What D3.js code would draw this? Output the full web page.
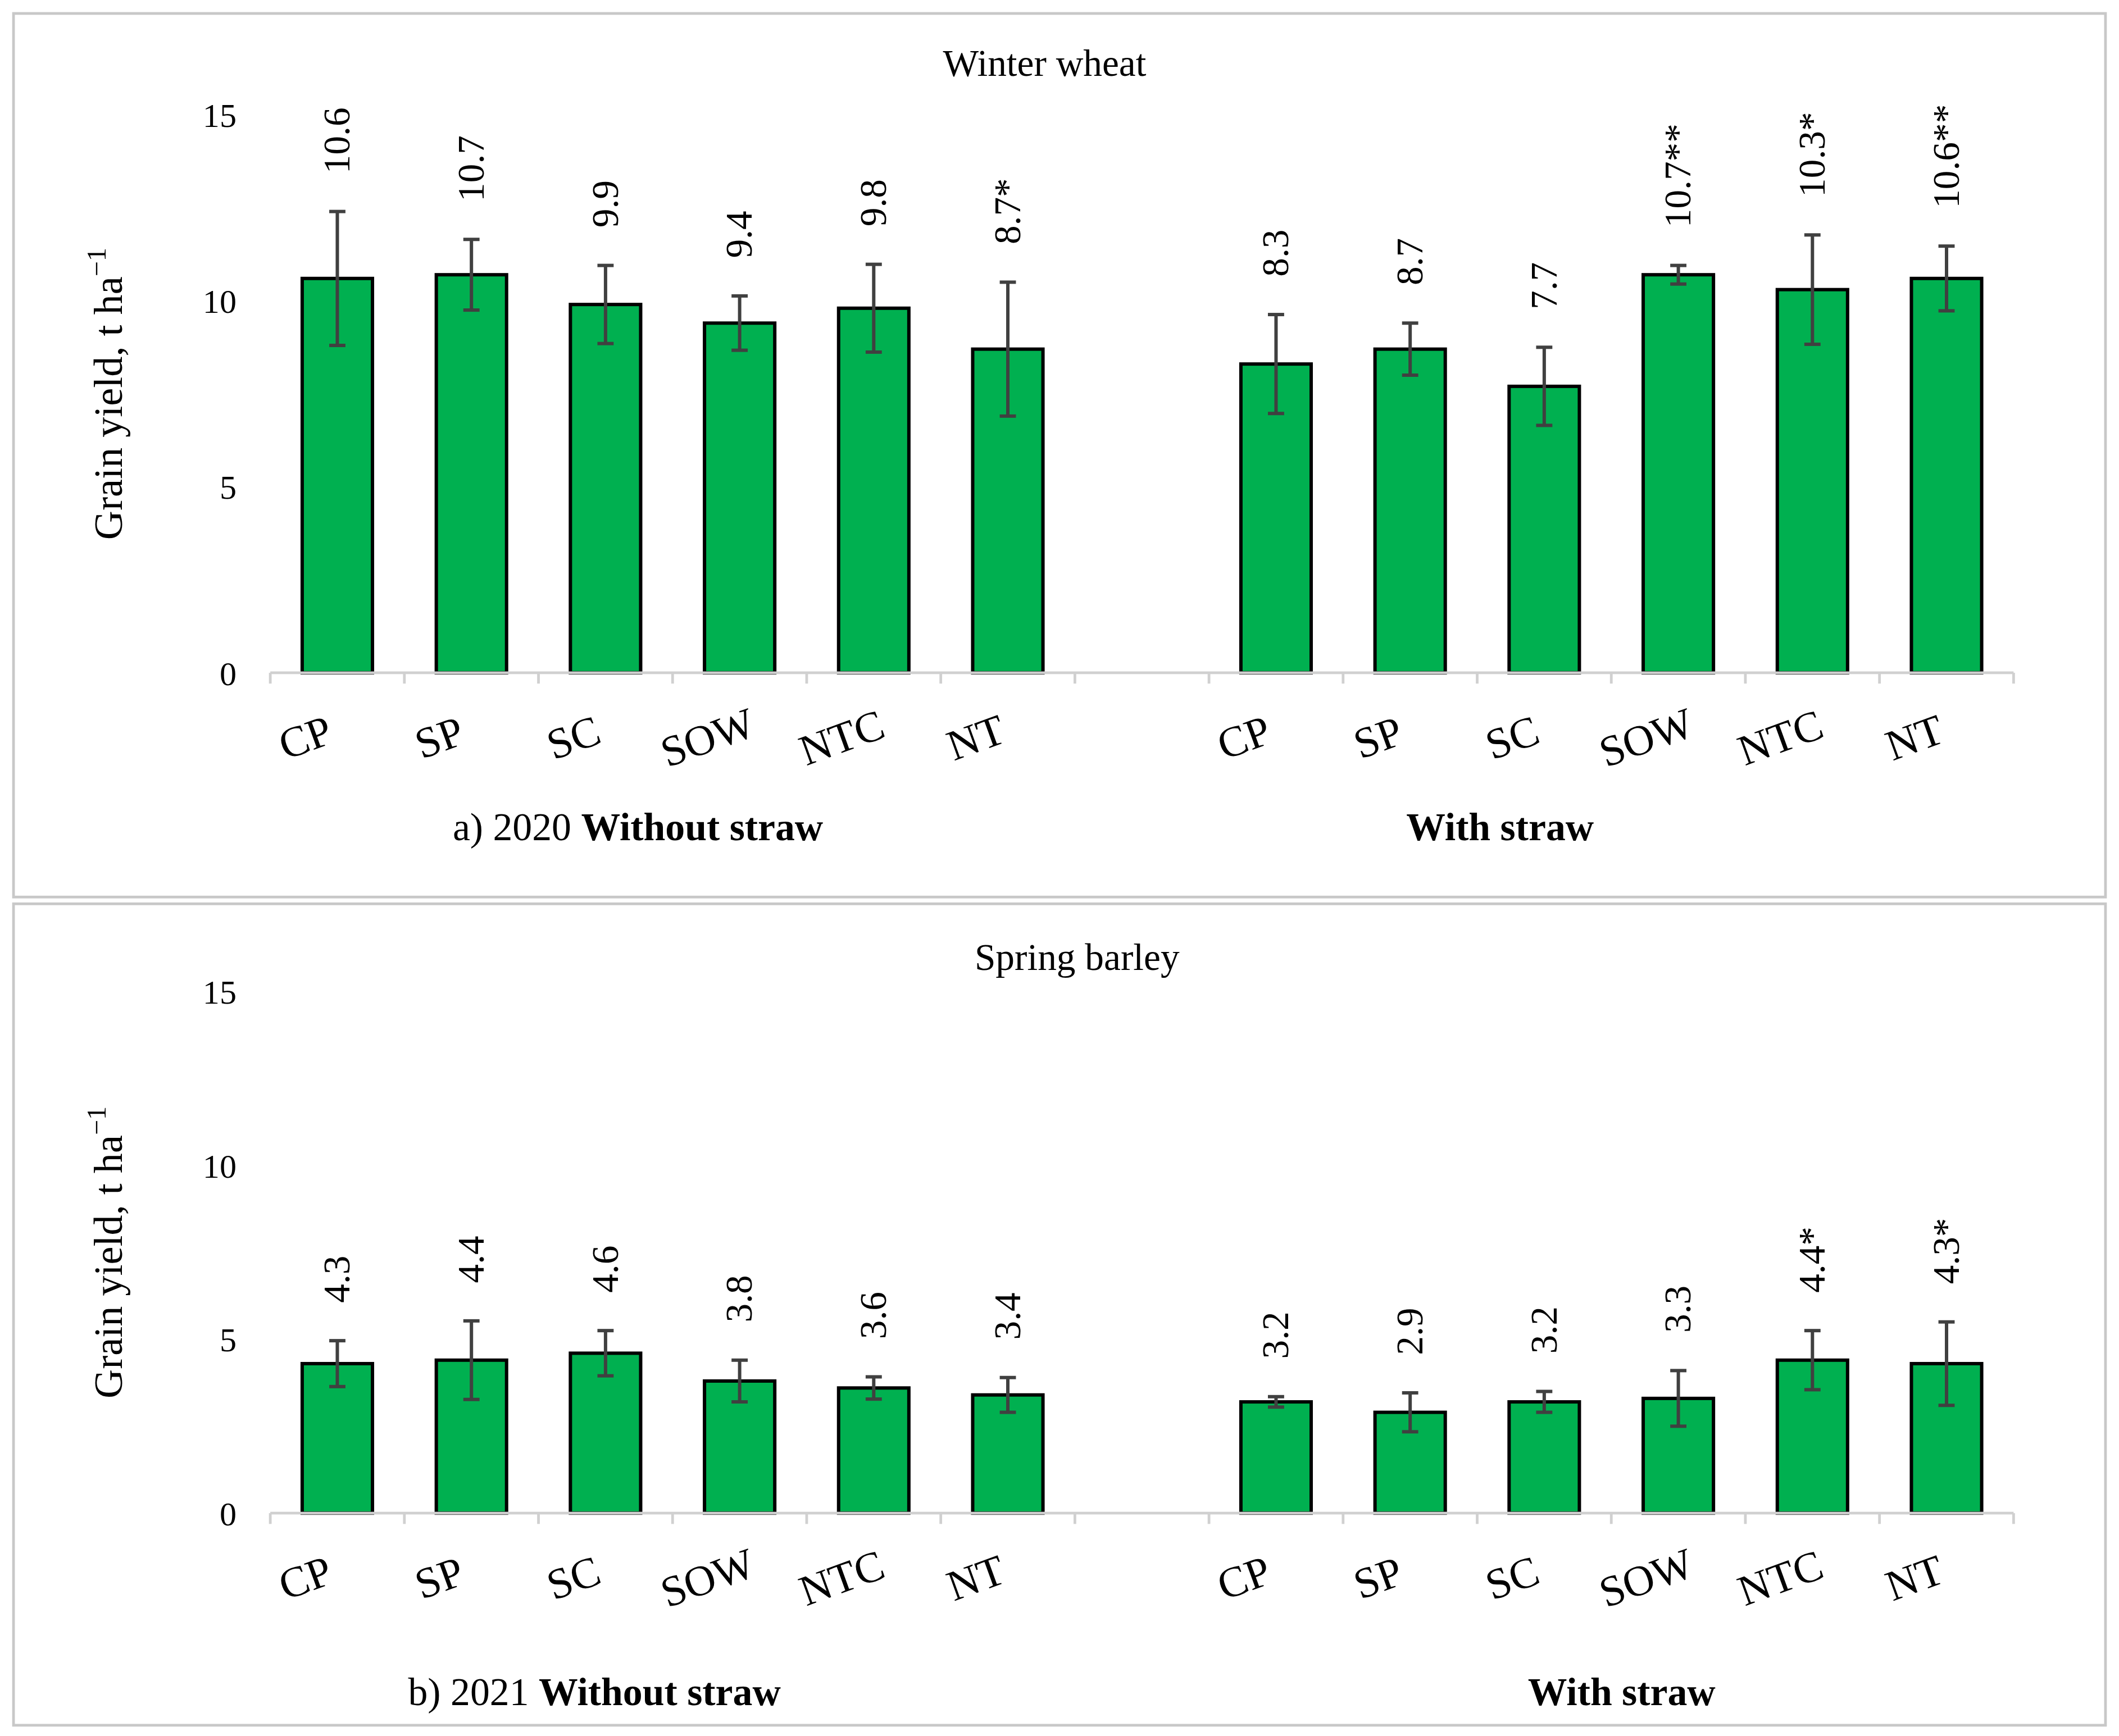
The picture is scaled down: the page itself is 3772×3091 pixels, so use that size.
<!DOCTYPE html>
<html><head><meta charset="utf-8">
<script src="https://cdn.jsdelivr.net/npm/d3@7"></script>
<style>body{margin:0;background:#fff}</style>
</head><body>
<script>
// data
var cats = ["CP","SP","SC","SOW","NTC","NT"];
var wheatNo   = [10.6,10.7,9.9,9.4,9.8,8.7];
var wheatNoE  = [1.8,0.95,1.05,0.73,1.18,1.8];
var wheatNoL  = ["10.6","10.7","9.9","9.4","9.8","8.7*"];
var wheatW    = [8.3,8.7,7.7,10.7,10.3,10.6];
var wheatWE   = [1.33,0.7,1.05,0.25,1.47,0.87];
var wheatWL   = ["8.3","8.7","7.7","10.7**","10.3*","10.6**"];
var barleyNo  = [4.3,4.4,4.6,3.8,3.6,3.4];
var barleyNoE = [0.66,1.13,0.65,0.6,0.32,0.5];
var barleyNoL = ["4.3","4.4","4.6","3.8","3.6","3.4"];
var barleyW   = [3.2,2.9,3.2,3.3,4.4,4.3];
var barleyWE  = [0.15,0.56,0.3,0.8,0.85,1.2];
var barleyWL  = ["3.2","2.9","3.2","3.3","4.4*","4.3*"];
var yTicks = [0,5,10,15];

var svg = d3.select("body").append("svg")
  .attr("width",3772).attr("height",3091)
  .attr("viewBox","0 0 1568 1281")
  .style("font-family","'Liberation Serif','Times New Roman',serif");

function panel(opt){
  var g = svg.append("g");
  g.append("rect").attr("x",opt.box[0]).attr("y",opt.box[1])
    .attr("width",opt.box[2]).attr("height",opt.box[3])
    .attr("fill","none").attr("stroke","#c8c8c8").attr("stroke-width",2);
  var slots = [];
  cats.forEach(function(c,i){slots.push("n"+i);});
  slots.push("gap");
  cats.forEach(function(c,i){slots.push("w"+i);});
  var x = d3.scaleBand().domain(slots).range([200,1490]);
  var y = d3.scaleLinear().domain([0,15]).range([opt.y0,opt.y15]);
  var rows = [];
  cats.forEach(function(c,i){rows.push({k:"n"+i,c:c,v:opt.no[i],e:opt.noE[i],l:opt.noL[i]});});
  cats.forEach(function(c,i){rows.push({k:"w"+i,c:c,v:opt.w[i],e:opt.wE[i],l:opt.wL[i]});});

  g.append("text").attr("x",opt.titleX).attr("y",opt.titleY).attr("text-anchor","middle")
    .attr("font-size",28).text(opt.title);
  yTicks.forEach(function(t){
    g.append("text").attr("x",175).attr("y",y(t)+9).attr("text-anchor","end")
      .attr("font-size",25).text(t);
  });
  var yc = (opt.y0+opt.y15)/2;
  var yl = g.append("text").attr("transform","translate(90,"+yc+") rotate(-90)")
    .attr("text-anchor","middle").attr("font-size",30);
  yl.append("tspan").text("Grain yield, t ha");
  yl.append("tspan").attr("font-size",20).attr("dy",-12).text("\u22121");

  var bw = 52;
  g.selectAll(".bar").data(rows).enter().append("rect")
    .attr("x",function(d){return x(d.k)+x.bandwidth()/2-bw/2;})
    .attr("y",function(d){return y(d.v);})
    .attr("width",bw).attr("height",function(d){return y(0)-y(d.v);})
    .attr("fill","#00b050").attr("stroke","#000").attr("stroke-width",2.5);

  g.append("line").attr("x1",200).attr("x2",1490).attr("y1",y(0)).attr("y2",y(0))
    .attr("stroke","#d0d0d0").attr("stroke-width",2);
  slots.forEach(function(s){
    g.append("line").attr("x1",x(s)).attr("x2",x(s)).attr("y1",y(0)).attr("y2",y(0)+8)
      .attr("stroke","#d0d0d0").attr("stroke-width",2);
  });
  g.append("line").attr("x1",1490).attr("x2",1490).attr("y1",y(0)).attr("y2",y(0)+8)
    .attr("stroke","#d0d0d0").attr("stroke-width",2);

  var eb = g.selectAll(".err").data(rows).enter().append("g")
    .attr("stroke","#404040").attr("stroke-width",2.5);
  eb.append("line").attr("x1",function(d){return x(d.k)+x.bandwidth()/2;})
    .attr("x2",function(d){return x(d.k)+x.bandwidth()/2;})
    .attr("y1",function(d){return y(d.v+d.e);}).attr("y2",function(d){return y(d.v-d.e);});
  [1,-1].forEach(function(sg){
    eb.append("line").attr("x1",function(d){return x(d.k)+x.bandwidth()/2-6;})
      .attr("x2",function(d){return x(d.k)+x.bandwidth()/2+6;})
      .attr("y1",function(d){return y(d.v+sg*d.e);}).attr("y2",function(d){return y(d.v+sg*d.e);});
  });

  g.selectAll(".lab").data(rows).enter().append("text")
    .attr("transform",function(d){return "translate("+(x(d.k)+x.bandwidth()/2+9)+","+(y(d.v+d.e)-28)+") rotate(-90)";})
    .attr("font-size",28).text(function(d){return d.l;});

  g.selectAll(".cat").data(rows).enter().append("text")
    .attr("transform",function(d){return "translate("+(x(d.k)+x.bandwidth()/2-20)+","+(y(0)+58)+") rotate(-20)";})
    .attr("text-anchor","middle").attr("font-size",32).text(function(d){return d.c;});

  var b = g.append("text").attr("x",opt.capX).attr("y",opt.capY).attr("font-size",29);
  b.append("tspan").text(opt.cap+"  ");
  b.append("tspan").attr("font-weight","bold").text("Without straw");
  g.append("text").attr("x",opt.withX).attr("y",opt.capY).attr("text-anchor","middle")
    .attr("font-size",29).attr("font-weight","bold").text("With straw");
}

panel({box:[10,8,1548,654],y0:496,y15:83,title:"Winter wheat",titleX:773,titleY:54,
  no:wheatNo,noE:wheatNoE,noL:wheatNoL,w:wheatW,wE:wheatWE,wL:wheatWL,
  cap:"a) 2020",capX:335,capY:620,withX:1110});
panel({box:[10,667,1548,608],y0:1118,y15:732,title:"Spring barley",titleX:797,titleY:716,
  no:barleyNo,noE:barleyNoE,noL:barleyNoL,w:barleyW,wE:barleyWE,wL:barleyWL,
  cap:"b) 2021",capX:302,capY:1260,withX:1200});
</script>
</body></html>
